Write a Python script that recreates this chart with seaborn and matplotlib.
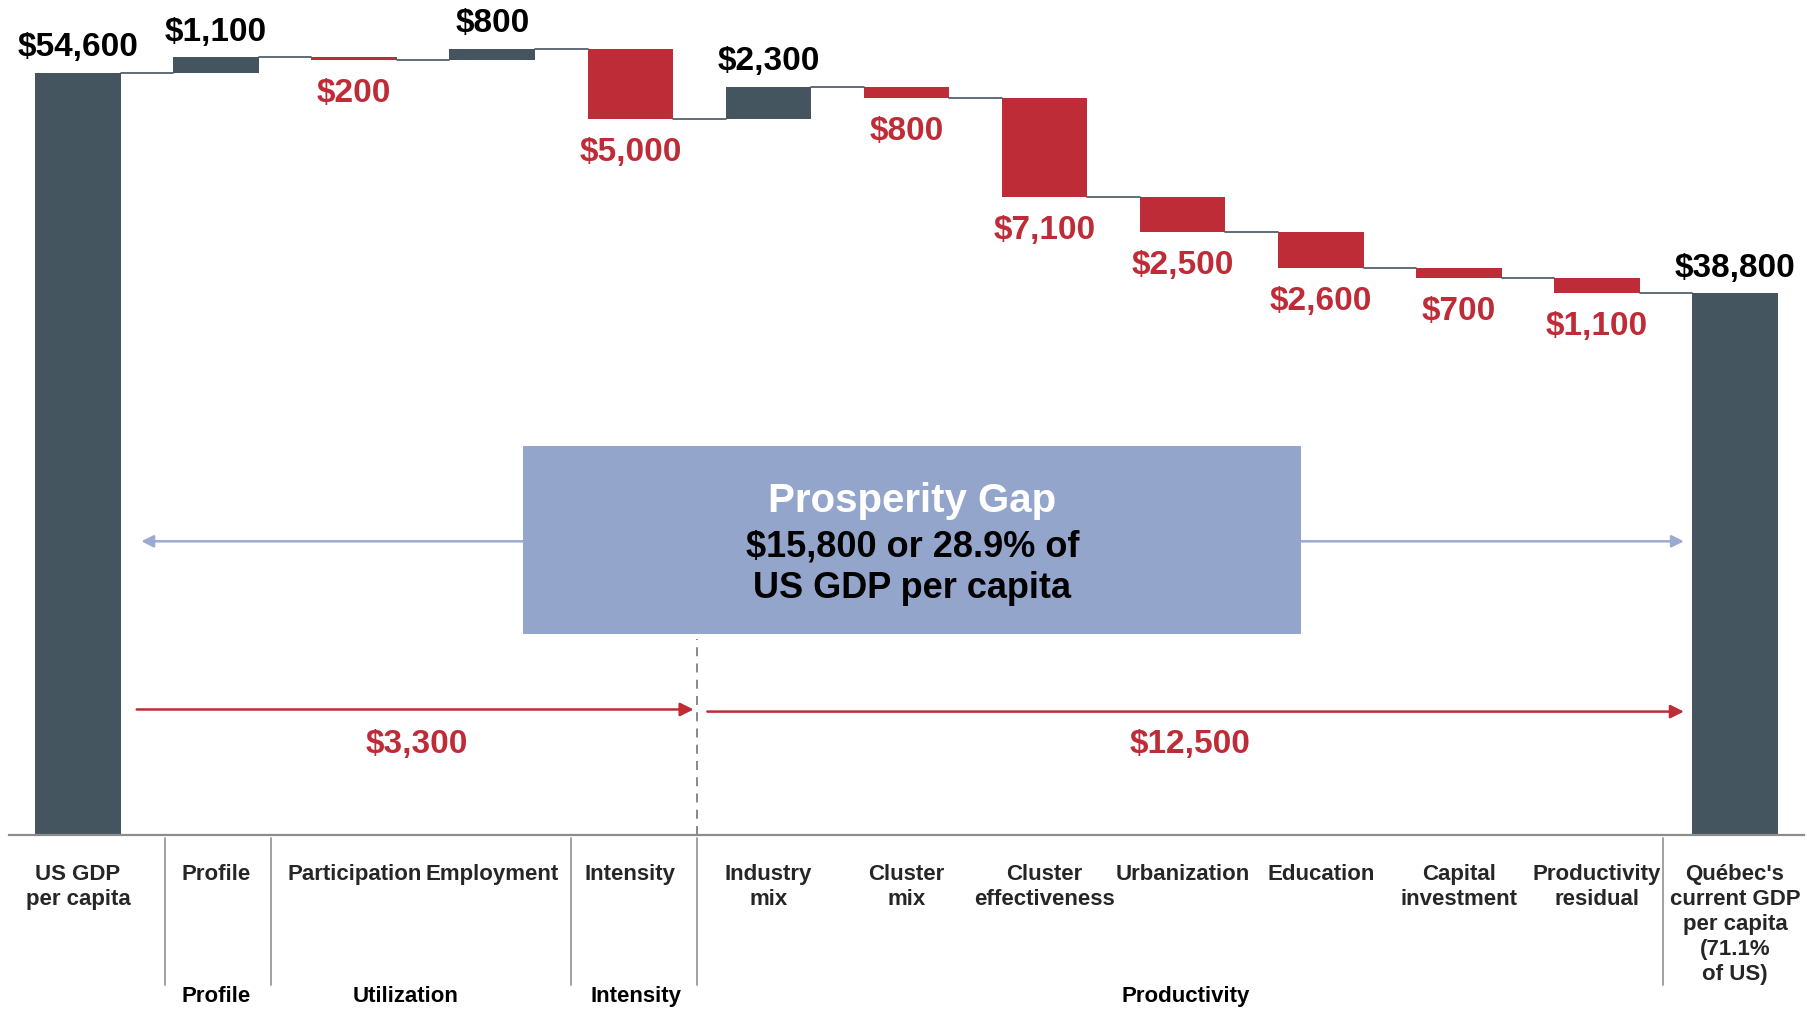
import numpy as np
import pandas as pd
import matplotlib
matplotlib.use("Agg")
import matplotlib.pyplot as plt
from matplotlib.patches import Rectangle
import seaborn as sns

# waterfall data (US $ GDP per capita)
categories = ["US GDP\nper capita", "Profile", "Participation", "Employment", "Intensity",
              "Industry\nmix", "Cluster\nmix", "Cluster\neffectiveness", "Urbanization",
              "Education", "Capital\ninvestment", "Productivity\nresidual",
              "Québec's\ncurrent GDP\nper capita\n(71.1%\nof US)"]
changes = [54600, 1100, -200, 800, -5000, 2300, -800, -7100, -2500, -2600, -700, -1100, 38800]
kinds = ["total"] + ["step"] * 11 + ["total"]

groups = ["Profile", "Utilization", "Intensity", "Productivity"]
group_x = [1.0, 2.375, 4.04, 8.02]
separators = [0.633, 1.4, 3.567, 4.483, 11.48]

gap_title = "Prosperity Gap"
gap_text = "$15,800 or 28.9% of\nUS GDP per capita"
sub_gaps = ["$3,300", "$12,500"]

DARK = "#455560"
RED = "#BE2C38"
BOX = "#94A5CB"
ARROW_BLUE = "#9AAAD0"

sns.set_theme(style="white")
plt.rcParams["font.family"] = ["Liberation Sans Narrow", "Liberation Sans", "DejaVu Sans"]
plt.rcParams["font.weight"] = "bold"

# running totals
bottoms, heights, colors, levels = [], [], [], []
running = 0
for val, kind in zip(changes, kinds):
    if kind == "total":
        bottoms.append(0)
        heights.append(val)
        colors.append(DARK)
        running = val
    else:
        new = running + val
        bottoms.append(min(running, new))
        heights.append(abs(val))
        colors.append(DARK if val > 0 else RED)
        running = new
    levels.append(running)

df = pd.DataFrame({"category": categories, "height": heights})

fig = plt.figure(figsize=(18.07, 10.09), dpi=100)
ax = fig.add_axes([9 / 1807, 174 / 1009, 1795 / 1807, 835 / 1009])

width = 0.62
sns.barplot(data=df, x="category", y="height", order=categories, ax=ax,
            width=width, errorbar=None, color=DARK, saturation=1,
            bottom=bottoms, facecolor=colors, edgecolor="none", linewidth=0)

ax.set_xlim(-0.5, len(categories) - 0.5)
ax.set_ylim(0, 59800)
for s in ["top", "right", "left"]:
    ax.spines[s].set_visible(False)
ax.spines["bottom"].set_color("#8C8C8C")
ax.spines["bottom"].set_linewidth(1.6)
ax.set_yticks([])
ax.set_xlabel("")
ax.set_ylabel("")
ax.tick_params(axis="x", length=0, pad=21, labelsize=16)
for lab in ax.get_xticklabels():
    lab.set_fontweight("bold")
    lab.set_linespacing(1.25)
    lab.set_verticalalignment("top")

# connectors
for i in range(len(categories) - 1):
    ax.plot([i + width / 2, i + 1 - width / 2], [levels[i], levels[i]],
            color=DARK, lw=1.2, zorder=1)

# value labels
for i, (val, kind) in enumerate(zip(changes, kinds)):
    txt = "${:,}".format(abs(val))
    if kind == "total" or val > 0:
        top = bottoms[i] + heights[i]
        ax.annotate(txt, (i, top), xytext=(0, 18), textcoords="offset points",
                    ha="center", va="center", fontsize=24, fontweight="bold", color="black")
    else:
        ax.annotate(txt, (i, bottoms[i]), xytext=(0, -24), textcoords="offset points",
                    ha="center", va="center", fontsize=24, fontweight="bold", color=RED)

# prosperity gap box
bx0, bx1, by0, by1 = 3.225, 8.86, 14420, 27875
ax.add_patch(Rectangle((bx0, by0), bx1 - bx0, by1 - by0, facecolor=BOX, edgecolor="none", zorder=3))
bxc = (bx0 + bx1) / 2
ax.text(bxc, 23950, gap_title, ha="center", va="center", fontsize=29,
        fontweight="bold", color="white", zorder=4)
ax.text(bxc, 19150, gap_text, ha="center", va="center", fontsize=26,
        fontweight="bold", color="black", linespacing=1.25, zorder=4)

# blue arrows out of the box
ax.annotate("", xy=(0.458, 21033), xytext=(bx0, 21033),
            arrowprops=dict(arrowstyle="-|>", color=ARROW_BLUE, lw=1.8, mutation_scale=18,
                            shrinkA=0, shrinkB=0))
ax.annotate("", xy=(11.63, 21033), xytext=(bx1, 21033),
            arrowprops=dict(arrowstyle="-|>", color=ARROW_BLUE, lw=1.8, mutation_scale=18,
                            shrinkA=0, shrinkB=0))

# red arrows for the two sub-gaps
ax.annotate("", xy=(4.458, 8990), xytext=(0.425, 8990),
            arrowprops=dict(arrowstyle="-|>", color=RED, lw=1.8, mutation_scale=20,
                            shrinkA=0, shrinkB=0))
ax.annotate("", xy=(11.63, 8838), xytext=(4.558, 8838),
            arrowprops=dict(arrowstyle="-|>", color=RED, lw=1.8, mutation_scale=20,
                            shrinkA=0, shrinkB=0))
ax.text(2.45, 6450, sub_gaps[0], ha="center", va="center", fontsize=24,
        fontweight="bold", color=RED)
ax.text(8.05, 6450, sub_gaps[1], ha="center", va="center", fontsize=24,
        fontweight="bold", color=RED)

# dashed divider between utilization and productivity
ax.plot([4.483, 4.483], [0, 14020], color="#7F7F7F", lw=1.3, ls=(0, (5, 4)), zorder=2)

# separators and group labels under the axis
trans = ax.get_xaxis_transform()
for xs in separators:
    ax.plot([xs, xs], [-0.004, -0.18], color="#9A9A9A", lw=1.3, transform=trans, clip_on=False)
for g, gx in zip(groups, group_x):
    ax.text(gx, -0.194, g, transform=trans, ha="center", va="center",
            fontsize=16, fontweight="bold", color="black")

fig.savefig("out.png", dpi=100)
